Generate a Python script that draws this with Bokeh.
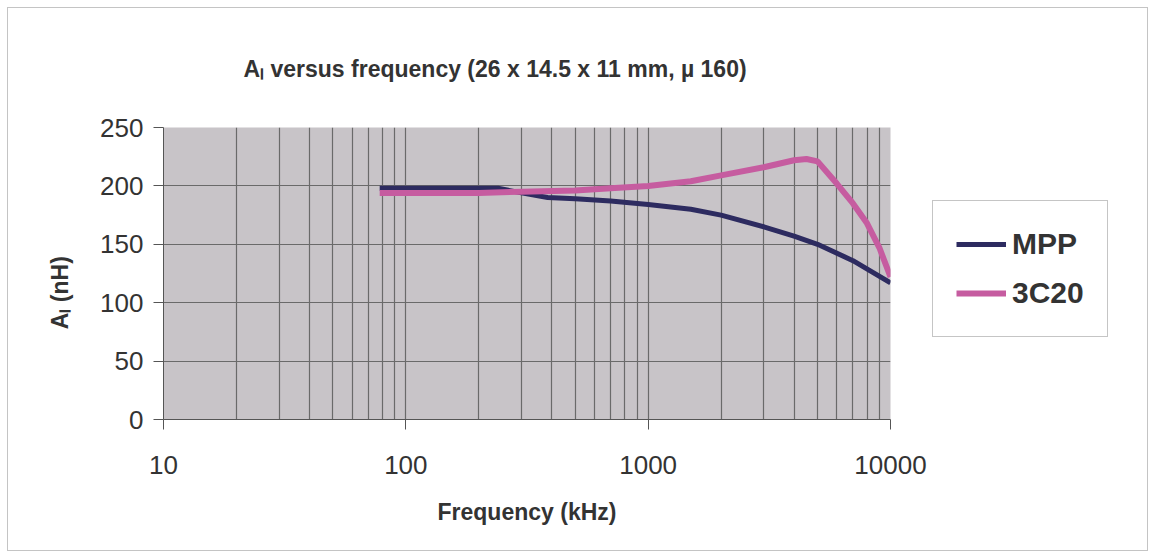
from bokeh.plotting import figure
from bokeh.layouts import row
from bokeh.models import (FixedTicker, Title, Legend, LegendItem, NumeralTickFormatter, Range1d)
from bokeh.embed import file_html
from bokeh.resources import INLINE

# ---- data ----
freq_ticks = [10, 100, 1000, 10000]
al_ticks = [0, 50, 100, 150, 200, 250]

mpp_freq = [78, 100, 150, 200, 240, 300, 385, 500, 700, 1000, 1500, 2000, 3000, 4000, 5000, 7000, 10000]
mpp_al = [198, 198, 198, 198, 198, 194, 190, 189, 187, 184, 180, 175, 165, 157, 150, 136, 117]

c20_freq = [78, 100, 200, 300, 500, 700, 1000, 1500, 2000, 3000, 4000, 4500, 5000, 6000, 7000, 8000, 9000, 10000]
c20_al = [194, 194, 194, 195, 196, 198, 200, 204, 209, 216, 222, 223, 221, 202, 185, 168, 147, 122]

series_names = ["MPP", "3C20"]
series_colors = ["#2d2b60", "#c65ca0"]
series_widths = [5, 6]

title_text = "A\u2097 versus frequency (26 x 14.5 x 11 mm, \u00b5 160)"
xlabel = "Frequency (kHz)"
ylabel = "A\u2097 (nH)"

FONT = "Liberation Sans"
TXT = "#333333"
GRID = "#6a6a6a"

# ---------------- main chart ----------------
p = figure(width=928, height=558, x_axis_type="log", x_range=(10, 10000), y_range=(0, 250),
           output_backend="svg", toolbar_location=None, title=None,
           min_border_left=163, min_border_right=38, min_border_top=127, min_border_bottom=139)
p.outline_line_color = None
p.background_fill_color = "#c8c4c8"
p.border_fill_alpha = 0.0

minor = [m * d for d in freq_ticks[:-1] for m in range(2, 10)]
p.xaxis.ticker = FixedTicker(ticks=freq_ticks, minor_ticks=minor)
p.xaxis.formatter = NumeralTickFormatter(format="0")
p.yaxis.ticker = FixedTicker(ticks=al_ticks)

for ax in (p.xaxis, p.yaxis):
    ax.major_label_text_font = FONT
    ax.major_label_text_font_size = "26px"
    ax.major_label_text_color = TXT
    ax.axis_line_color = "#555555"
    ax.major_tick_line_color = "#555555"
    ax.major_tick_out = 10
    ax.major_tick_in = 0
    ax.minor_tick_out = 0
    ax.minor_tick_in = 0
    ax.axis_label_text_font = FONT
    ax.axis_label_text_font_style = "bold"
    ax.axis_label_text_color = TXT
p.xaxis.major_label_standoff = 26
p.yaxis.major_label_standoff = 10

p.xaxis.axis_label = xlabel
p.xaxis.axis_label_text_font_size = "23px"
p.xaxis.axis_label_standoff = 22

# pad with no-break spaces so the rotated label sits a little lower, as in the reference
p.yaxis.axis_label = ylabel + "\u00a0" * 6
p.yaxis.axis_label_text_font_size = "23px"
p.yaxis.axis_label_standoff = 24

p.xgrid.grid_line_color = GRID
p.xgrid.minor_grid_line_color = GRID
p.ygrid.grid_line_color = GRID
p.xgrid.grid_line_width = 1.2
p.xgrid.minor_grid_line_width = 1.2
p.ygrid.grid_line_width = 1.2

r1 = p.line(mpp_freq, mpp_al, line_color=series_colors[0], line_width=series_widths[0])
r2 = p.line(c20_freq, c20_al, line_color=series_colors[1], line_width=series_widths[1])

p.add_layout(Title(text=title_text, align="left", offset=80, standoff=92,
                   text_font=FONT, text_font_style="bold", text_font_size="23px",
                   text_color=TXT), "above")

# ---------------- legend panel (to the right of the chart) ----------------
# The same series are drawn here (outside this panel's visible range) only so that
# the legend has renderers to show its line samples.
q = figure(width=227, height=558, output_backend="svg", toolbar_location=None, title=None,
           x_axis_location=None, y_axis_location=None, min_border=0,
           x_range=Range1d(0, 1), y_range=Range1d(0, 1))
q.grid.visible = False
q.outline_line_color = None
q.background_fill_alpha = 0.0
q.border_fill_alpha = 0.0
q1 = q.line(mpp_freq, mpp_al, line_color=series_colors[0], line_width=series_widths[0])
q2 = q.line(c20_freq, c20_al, line_color=series_colors[1], line_width=series_widths[1])

legend = Legend(items=[LegendItem(label=series_names[0], renderers=[q1]),
                       LegendItem(label=series_names[1], renderers=[q2])],
                location=(4, 82), padding=23, margin=0, spacing=9,
                glyph_width=50, glyph_height=40, label_height=40, label_standoff=6,
                border_line_color="#8c8c8c", border_line_width=1.5,
                background_fill_color="white", background_fill_alpha=1.0,
                label_text_font=FONT, label_text_font_style="bold",
                label_text_font_size="30px", label_text_color=TXT)
q.add_layout(legend)

layout = row(p, q, spacing=0,
             styles={"outline": "1px solid #c4c4c4", "outline-offset": "-8px",
                     "background": "white"})

open("out.html", "w").write(file_html(layout, INLINE))
